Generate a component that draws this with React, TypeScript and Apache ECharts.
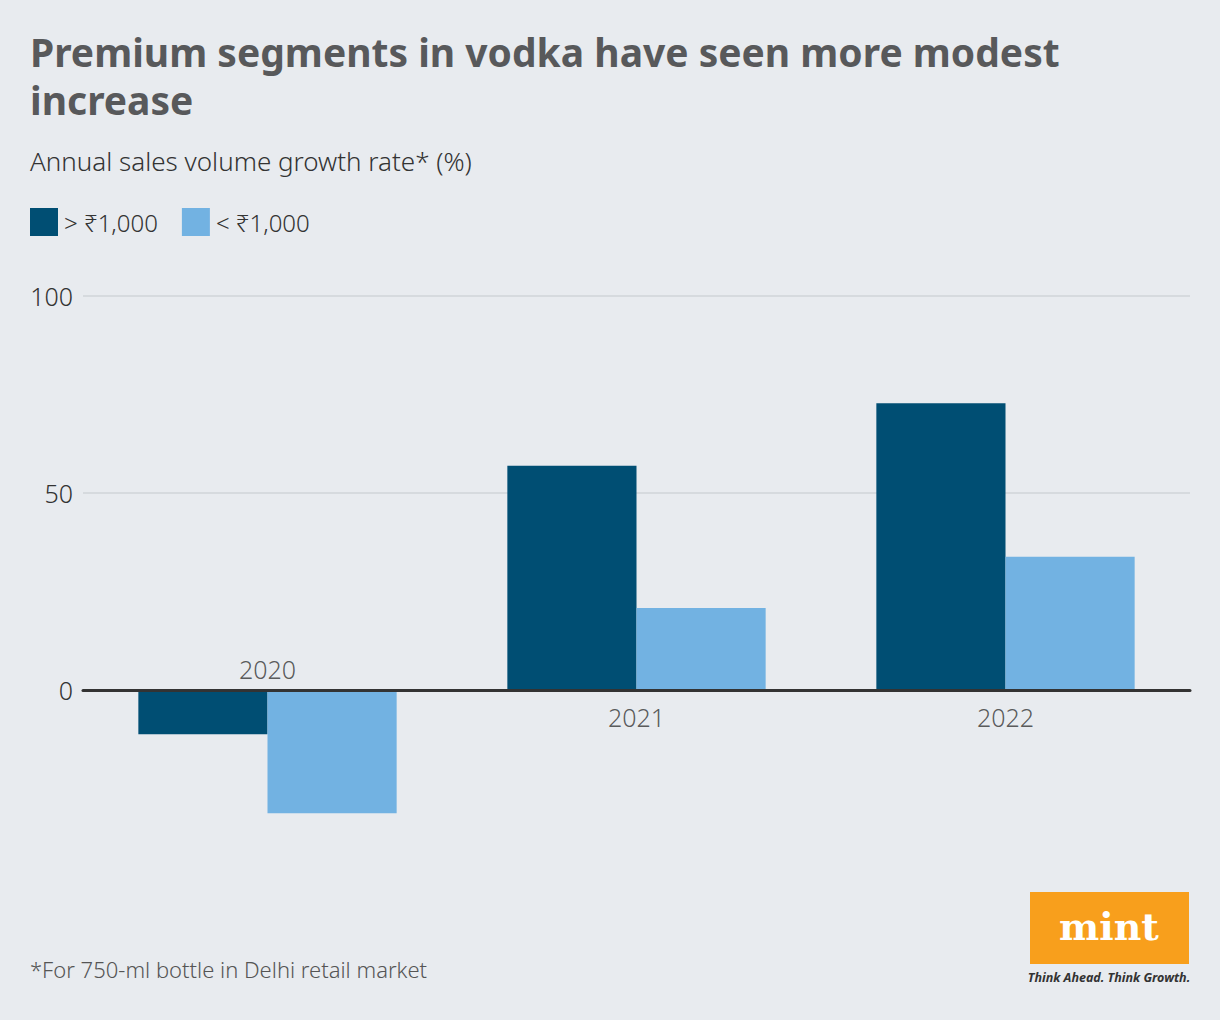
import React, { useEffect, useRef } from "react";
import * as echarts from "echarts";

const categories = ["2020", "2021", "2022"];
const seriesNames = ["> ₹1,000", "< ₹1,000"];
const premiumValues = [-11.2, 56.9, 72.8];
const regularValues = [-31.3, 20.8, 33.8];
const yTicks = { min: -50, max: 100, interval: 50 };
const titleLines = ["Premium segments in vodka have seen more modest", "increase"];

const COLORS = ["#004e73", "#72b2e2"];
const BG = "#e8ebef";
const FONT = "'Noto Sans', 'Open Sans', sans-serif";

export default function App() {
  const ref = useRef<HTMLDivElement>(null);
  useEffect(() => {
    document.body.style.margin = "0";
    const chart = echarts.init(ref.current!, null, { renderer: "svg" });
    const labelData = categories.map((c, i) => {
      const neg = premiumValues[i] < 0 || regularValues[i] < 0;
      return {
        value: [c, 0],
        label: { position: neg ? "top" : "bottom", distance: neg ? 9 : 14 },
      };
    });
    chart.setOption({
      animation: false,
      backgroundColor: BG,
      textStyle: { fontFamily: FONT },
      grid: { left: 83, right: 30, top: 296, bottom: 133, containLabel: false },
      legend: {
        left: 30,
        top: 208,
        padding: 0,
        icon: "rect",
        itemWidth: 28,
        itemHeight: 28,
        itemGap: 24,
        data: seriesNames,
        textStyle: { fontSize: 24, color: "#333", fontFamily: FONT, fontWeight: 300, padding: [0, 0, 0, 1] },
      },
      xAxis: {
        type: "category",
        data: categories,
        axisLine: { onZero: true, lineStyle: { color: "#333", width: 3 } },
        axisTick: { show: false },
        axisLabel: { show: false },
        splitLine: { show: false },
        z: 10,
      },
      yAxis: {
        type: "value",
        min: yTicks.min,
        max: yTicks.max,
        interval: yTicks.interval,
        axisLine: { show: false },
        axisTick: { show: false },
        axisLabel: {
          formatter: (v: number) => (v < 0 ? "" : String(v)),
          fontSize: 25,
          color: "#333",
          fontWeight: 300,
          margin: 10,
          fontFamily: FONT,
        },
        splitLine: {
          lineStyle: { color: ["transparent", "#d0d4d9", "#d0d4d9", "#d0d4d9"], width: 1.5 },
        },
      },
      series: [
        {
          name: seriesNames[0],
          type: "bar",
          data: premiumValues,
          itemStyle: { color: COLORS[0] },
          barGap: "0%",
          barCategoryGap: "30%",
        },
        {
          name: seriesNames[1],
          type: "bar",
          data: regularValues,
          itemStyle: { color: COLORS[1] },
          barGap: "0%",
          barCategoryGap: "30%",
        },
        {
          type: "scatter",
          symbolSize: 0,
          data: labelData,
          silent: true,
          label: {
            show: true,
            formatter: (p: any) => p.value[0],
            fontSize: 25,
            color: "#333",
            fontWeight: 300,
            fontFamily: FONT,
          },
          z: 20,
        },
      ],
      graphic: [
        ...titleLines.map((t, i) => ({
          type: "text",
          left: 30,
          top: 32 + i * 48,
          style: {
            text: t,
            fontSize: 39,
            fontWeight: "bold",
            fill: "#58595b",
            fontFamily: FONT,
          },
        })),
        {
          type: "text",
          left: 30,
          top: 148,
          style: {
            text: "Annual sales volume growth rate* (%)",
            fontSize: 26,
            fontWeight: 300,
            fill: "#333",
            fontFamily: FONT,
          },
        },
        {
          type: "text",
          left: 30,
          top: 958,
          style: {
            text: "*For 750-ml bottle in Delhi retail market",
            fontSize: 22,
            fontWeight: 300,
            fill: "#555",
            fontFamily: FONT,
          },
        },
        {
          type: "rect",
          shape: { x: 1030, y: 892, width: 159, height: 72 },
          style: { fill: "#f89f1c" },
        },
        {
          type: "text",
          x: 1109,
          y: 926,
          style: {
            text: "mint",
            fontSize: 38,
            fontWeight: "bold",
            fill: "#fff",
            fontFamily: "'DejaVu Serif', serif",
            align: "center",
            verticalAlign: "middle",
          },
        },
        {
          type: "text",
          x: 1109,
          y: 977,
          style: {
            text: "Think Ahead. Think Growth.",
            fontSize: 12.5,
            fontWeight: "bold",
            fontStyle: "italic",
            fill: "#333",
            fontFamily: FONT,
            align: "center",
            verticalAlign: "middle",
          },
        },
      ],
    });
    return () => chart.dispose();
  }, []);
  return (
    <div
      ref={ref}
      style={{ position: "absolute", left: 0, top: 0, width: 1220, height: 1020, background: BG }}
    />
  );
}
